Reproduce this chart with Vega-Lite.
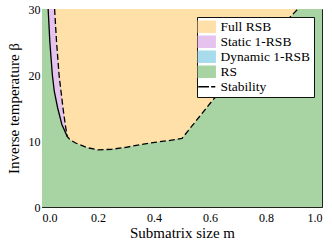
{
  "$schema": "https://vega.github.io/schema/vega-lite/v6.json",
  "width": 280,
  "height": 198,
  "autosize": {"type": "none"},
  "padding": {"left": 42, "top": 9, "right": 10, "bottom": 42},
  "background": "white",
  "config": {
    "view": {"stroke": "#222222", "strokeWidth": 1},
    "font": "Liberation Serif"
  },
  "datasets": {
    "rs": [
      {"m": 0, "beta": 30, "beta2": 0, "region": "RS"},
      {"m": 1, "beta": 30, "beta2": 0, "region": "RS"}
    ],
    "full": [
      {"m": 0.045, "beta2": 30, "beta": 30, "region": "Full RSB"},
      {"m": 0.052, "beta2": 30, "beta": 25, "region": "Full RSB"},
      {"m": 0.061, "beta2": 30, "beta": 20, "region": "Full RSB"},
      {"m": 0.068, "beta2": 30, "beta": 17.5, "region": "Full RSB"},
      {"m": 0.075, "beta2": 30, "beta": 15, "region": "Full RSB"},
      {"m": 0.083, "beta2": 30, "beta": 12.5, "region": "Full RSB"},
      {"m": 0.09, "beta2": 30, "beta": 10.7, "region": "Full RSB"},
      {"m": 0.1, "beta2": 30, "beta": 10.2, "region": "Full RSB"},
      {"m": 0.12, "beta2": 30, "beta": 9.7, "region": "Full RSB"},
      {"m": 0.135, "beta2": 30, "beta": 9.45, "region": "Full RSB"},
      {"m": 0.16, "beta2": 30, "beta": 9.0, "region": "Full RSB"},
      {"m": 0.2, "beta2": 30, "beta": 8.65, "region": "Full RSB"},
      {"m": 0.25, "beta2": 30, "beta": 8.75, "region": "Full RSB"},
      {"m": 0.3, "beta2": 30, "beta": 9.05, "region": "Full RSB"},
      {"m": 0.385, "beta2": 30, "beta": 9.7, "region": "Full RSB"},
      {"m": 0.45, "beta2": 30, "beta": 10.05, "region": "Full RSB"},
      {"m": 0.5, "beta2": 30, "beta": 10.4, "region": "Full RSB"},
      {"m": 0.61, "beta2": 30, "beta": 16.2, "region": "Full RSB"},
      {"m": 0.76, "beta2": 30, "beta": 23.2, "region": "Full RSB"},
      {"m": 0.914, "beta2": 30, "beta": 30, "region": "Full RSB"}
    ],
    "static": [
      {"beta": 30, "m": 0.022, "m2": 0.045, "region": "Static 1-RSB"},
      {"beta": 25, "m": 0.028, "m2": 0.052, "region": "Static 1-RSB"},
      {"beta": 20, "m": 0.037, "m2": 0.061, "region": "Static 1-RSB"},
      {"beta": 17.5, "m": 0.044, "m2": 0.068, "region": "Static 1-RSB"},
      {"beta": 15, "m": 0.056, "m2": 0.075, "region": "Static 1-RSB"},
      {"beta": 12.5, "m": 0.071, "m2": 0.083, "region": "Static 1-RSB"},
      {"beta": 10.7, "m": 0.09, "m2": 0.09, "region": "Static 1-RSB"}
    ]
  },
  "encoding": {
    "x": {
      "field": "m",
      "type": "quantitative",
      "scale": {"domain": [0, 1], "nice": false},
      "axis": {
        "title": "Submatrix size m",
        "values": [0, 0.2, 0.4, 0.6, 0.8, 1.0],
        "format": ".1f",
        "domain": false,
        "grid": false,
        "tickColor": "#222222",
        "tickSize": -4,
        "labelFont": "Liberation Serif",
        "labelFontSize": 12,
        "labelColor": "black",
        "labelPadding": 9,
        "titleFont": "Liberation Serif",
        "titleFontSize": 15,
        "titleFontWeight": "normal",
        "titleColor": "black",
        "titlePadding": 2
      }
    },
    "y": {
      "field": "beta",
      "type": "quantitative",
      "scale": {"domain": [0, 30], "nice": false},
      "axis": {
        "title": "Inverse temperature β",
        "values": [0, 10, 20, 30],
        "domain": false,
        "grid": false,
        "tickColor": "#222222",
        "tickSize": -4,
        "labelFont": "Liberation Serif",
        "labelFontSize": 12,
        "labelColor": "black",
        "labelPadding": 6,
        "titleFont": "Liberation Serif",
        "titleFontSize": 15,
        "titleFontWeight": "normal",
        "titleColor": "black",
        "titlePadding": 7
      }
    },
    "color": {
      "field": "region",
      "type": "nominal",
      "scale": {
        "domain": ["Full RSB", "Static 1-RSB", "Dynamic 1-RSB", "RS", "Stability"],
        "range": ["#FFE0A8", "#E6C3EE", "#A8DCEC", "#A8D4A4", "#000000"]
      },
      "legend": {
        "title": null,
        "orient": "top-right",
        "offset": 8,
        "fillColor": "white",
        "strokeColor": "#111111",
        "padding": 3,
        "rowPadding": -4,
        "labelOffset": 7,
        "labelFont": "Liberation Serif",
        "labelFontSize": 13.5,
        "labelColor": "black",
        "symbolOpacity": 1,
        "symbolSize": 121,
        "symbolType": "M-1.55,-1H1.55V1H-1.55Z",
        "encode": {
          "symbols": {
            "update": {
              "shape": {"signal": "datum.value === 'Stability' ? 'M-1.55,0H0.4M0.8,0H1.55' : 'M-1.55,-1H1.55V1H-1.55Z'"},
              "fill": {"signal": "datum.value === 'Stability' ? 'transparent' : scale('color', datum.value)"},
              "stroke": {"signal": "datum.value === 'Stability' ? 'black' : 'transparent'"},
              "strokeWidth": {"value": 1.3},
              "opacity": {"value": 1}
            }
          }
        }
      }
    }
  },
  "layer": [
    {
      "data": {"name": "rs"},
      "mark": {"type": "area", "opacity": 1},
      "encoding": {"y2": {"field": "beta2"}}
    },
    {
      "data": {"name": "full"},
      "mark": {"type": "area", "opacity": 1},
      "encoding": {"y2": {"field": "beta2"}}
    },
    {
      "data": {"name": "static"},
      "mark": {"type": "area", "orient": "horizontal", "opacity": 1},
      "encoding": {"x2": {"field": "m2"}}
    },
    {
      "data": {"name": "static"},
      "mark": {"type": "line", "color": "black", "strokeWidth": 1.3},
      "encoding": {"color": {"value": "black"}}
    },
    {
      "data": {"name": "full"},
      "mark": {"type": "line", "strokeWidth": 1.3, "strokeDash": [6, 3]},
      "encoding": {"color": {"datum": "Stability", "type": "nominal"}}
    }
  ]
}
